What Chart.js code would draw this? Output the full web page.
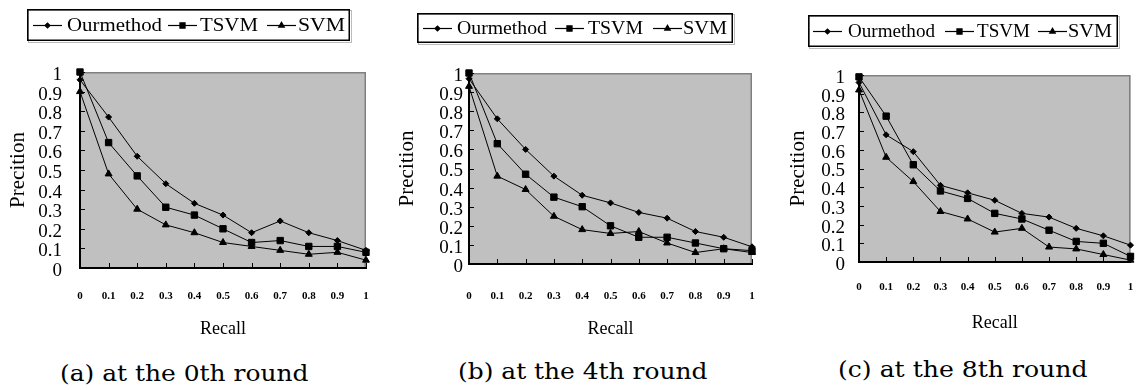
<!DOCTYPE html>
<html><head><meta charset="utf-8">
<script src="https://cdn.jsdelivr.net/npm/chart.js@4/dist/chart.umd.min.js"></script>
<style>
html,body{margin:0;padding:0;background:#fff;width:1136px;height:390px;overflow:hidden;position:relative;}
.wrap{position:absolute;top:0;height:350px;}
canvas{display:block;}
.cap{position:absolute;white-space:nowrap;font-family:"DejaVu Serif";font-size:23px;color:#000;transform-origin:0 0;line-height:1;}
</style></head><body>
<div class="wrap" id="w0" style="left:0;width:380px"><canvas id="c0"></canvas></div>
<div class="wrap" id="w1" style="left:380px;width:380px"><canvas id="c1"></canvas></div>
<div class="wrap" id="w2" style="left:760px;width:376px"><canvas id="c2"></canvas></div>
<div class="cap" id="cap0"></div>
<div class="cap" id="cap1"></div>
<div class="cap" id="cap2"></div>
<script>
// ---- data ----
const recall = ['0','0.1','0.2','0.3','0.4','0.5','0.6','0.7','0.8','0.9','1'];
const seriesNames = ['Ourmethod','TSVM','SVM'];
const xTitle = 'Recall';
const yTitle = 'Precition';
const captions = ['(a) at the 0th round','(b) at the 4th round','(c) at the 8th round'];

const ours0 = [0.96,0.77,0.57,0.43,0.33,0.27,0.18,0.24,0.18,0.14,0.09];
const tsvm0 = [1.00,0.64,0.47,0.31,0.27,0.20,0.13,0.14,0.11,0.11,0.08];
const svm0  = [0.90,0.48,0.30,0.22,0.18,0.13,0.11,0.09,0.07,0.08,0.04];

const ours4 = [0.97,0.76,0.60,0.46,0.36,0.32,0.27,0.24,0.17,0.14,0.09];
const tsvm4 = [1.00,0.63,0.47,0.35,0.30,0.20,0.14,0.14,0.11,0.08,0.07];
const svm4  = [0.93,0.46,0.39,0.25,0.18,0.16,0.17,0.11,0.06,0.08,0.06];

const ours8 = [0.96,0.68,0.59,0.41,0.37,0.33,0.26,0.24,0.18,0.14,0.09];
const tsvm8 = [0.99,0.78,0.52,0.38,0.34,0.26,0.23,0.17,0.11,0.10,0.03];
const svm8  = [0.92,0.56,0.43,0.27,0.23,0.16,0.18,0.08,0.07,0.04,0.01];

const panels = [[ours0,tsvm0,svm0],[ours4,tsvm4,svm4],[ours8,tsvm8,svm8]];

// ---- styling / layout ----
const pointStyles = ['rectRot','rect','triangle'];
const pointRadii = [3,4.5,4];
const layouts = [
  {w:380, area:{left:80,right:366,top:72,bottom:268}, yPad:18, yTitlePad:6, xPad:22, xTitlePad:10,
   legend:{box:[27,9,350,41], cy:25, lines:[33,168,267], texts:[67,200,298], textW:[95,58,47]},
   cap:{left:60, top:362, width:248}},
  {w:380, area:{left:89,right:372,top:73,bottom:264}, yPad:6, yTitlePad:15, xPad:26, xTitlePad:10,
   legend:{box:[37,13,353,43], cy:28, lines:[43,175,273], texts:[77,208,303], textW:[90,55,44]},
   cap:{left:458, top:360, width:249}},
  {w:376, area:{left:99,right:375,top:75,bottom:262}, yPad:14, yTitlePad:26, xPad:19, xTitlePad:16,
   legend:{box:[48,15,358,47], cy:31, lines:[53,185,278], texts:[88,217,308], textW:[87,53,44]},
   cap:{left:838, top:358, width:250}}
];
const H = 350;
const serif = "'Liberation Serif', 'Times New Roman', serif";

const decor = {
  id:'decor',
  beforeDraw(chart){
    const {ctx, chartArea:a} = chart;
    ctx.save();
    ctx.fillStyle = '#c0c0c0';
    ctx.fillRect(a.left, a.top, a.right-a.left, a.bottom-a.top);
    ctx.strokeStyle = '#808080';
    ctx.lineWidth = 1.5;
    ctx.beginPath();
    ctx.moveTo(a.left, a.top+0.75);
    ctx.lineTo(a.right-0.75, a.top+0.75);
    ctx.lineTo(a.right-0.75, a.bottom);
    ctx.stroke();
    ctx.restore();
  },
  afterDraw(chart, args, opts){
    const {ctx, chartArea:a} = chart;
    const L = opts.lay;
    ctx.save();
    // inner tick marks
    ctx.strokeStyle = '#000'; ctx.lineWidth = 1;
    const ys = chart.scales.y, xs = chart.scales.x;
    ctx.beginPath();
    ys.ticks.forEach((t,i)=>{ const y = Math.round(ys.getPixelForTick(i))+0.5; ctx.moveTo(a.left, y); ctx.lineTo(a.left+5, y); });
    xs.ticks.forEach((t,i)=>{ const x = Math.round(xs.getPixelForTick(i))+0.5; ctx.moveTo(x, a.bottom); ctx.lineTo(x, a.bottom-5); });
    ctx.stroke();
    // legend
    const lg = L.legend;
    const [bx1,by1,bx2,by2] = lg.box;
    ctx.fillStyle = '#fff';
    ctx.fillRect(bx1,by1,bx2-bx1,by2-by1);
    ctx.strokeStyle = '#bbb'; ctx.lineWidth = 1;
    ctx.strokeRect(bx1+1.5,by1+1.5,bx2-bx1,by2-by1);
    ctx.strokeStyle = '#000'; ctx.lineWidth = 1.5;
    ctx.strokeRect(bx1+0.75,by1+0.75,bx2-bx1-1.5,by2-by1-1.5);
    chart.data.datasets.forEach((ds,i)=>{
      const x0 = lg.lines[i], x1 = x0+29, cy = lg.cy;
      ctx.strokeStyle = '#000'; ctx.lineWidth = 1.2;
      ctx.beginPath(); ctx.moveTo(x0, cy+0.5); ctx.lineTo(x1, cy+0.5); ctx.stroke();
      ctx.fillStyle = '#000';
      Chart.helpers.drawPoint(ctx, {pointStyle: ds.pointStyle, radius: ds.pointRadius*0.8, borderWidth:1, rotation:0}, (x0+x1)/2, cy+0.5);
      ctx.fill();
      ctx.font = "19px " + serif;
      ctx.textBaseline = 'middle';
      ctx.fillStyle = '#000';
      const w = ctx.measureText(ds.label).width;
      ctx.save();
      ctx.translate(lg.texts[i], cy+1.5);
      ctx.scale(lg.textW[i]/w, 1);
      ctx.fillText(ds.label, 0, 0);
      ctx.restore();
    });
    ctx.restore();
  }
};

panels.forEach((series, p)=>{
  const L = layouts[p];
  const cv = document.getElementById('c'+p);
  cv.width = L.w; cv.height = H;
  cv.style.width = L.w+'px'; cv.style.height = H+'px';
  new Chart(cv, {
    type:'line',
    data:{
      labels: recall,
      datasets: series.map((vals,i)=>({
        label: seriesNames[i], data: vals,
        borderColor:'#000', borderWidth:1,
        pointStyle: pointStyles[i], pointRadius: pointRadii[i],
        pointBackgroundColor:'#000', pointBorderColor:'#000', pointBorderWidth:1,
        tension:0, fill:false, clip:false
      }))
    },
    options:{
      responsive:false, animation:false, events:[],
      layout:{padding:{left:0, top:L.area.top, right:L.w-L.area.right, bottom:0}},
      plugins:{legend:{display:false}, tooltip:{enabled:false}, decor:{lay:L}},
      scales:{
        x:{
          type:'category', offset:false,
          grid:{display:true, drawOnChartArea:false, drawTicks:false},
          border:{display:true, color:'#000', width:2},
          ticks:{autoSkip:false, maxRotation:0, minRotation:0, padding:L.xPad, color:'#000',
                 font:{family:serif, size:11, weight:'bold'}},
          title:{display:true, text:xTitle, color:'#000', font:{family:serif, size:18}, padding:{top:0,bottom:L.xTitlePad}},
          afterFit(s){ s.height = H - L.area.bottom; s.paddingLeft = 0; s.paddingRight = 0; }
        },
        y:{
          min:0, max:1,
          grid:{display:true, drawOnChartArea:false, drawTicks:false},
          border:{display:true, color:'#000', width:2},
          ticks:{stepSize:0.1, autoSkip:false, padding:L.yPad, labelOffset:3, color:'#000',
                 font:{family:serif, size:19},
                 callback:(v)=>String(Math.round(v*10)/10)},
          title:{display:true, text:yTitle, color:'#000', font:{family:serif, size:21}, padding:{top:L.yTitlePad,bottom:0}},
          afterFit(s){ s.width = L.area.left; s.paddingTop = 0; s.paddingBottom = 0; }
        }
      }
    },
    plugins:[decor]
  });
  const cap = document.getElementById('cap'+p);
  cap.textContent = captions[p];
  cap.style.left = L.cap.left+'px';
  cap.style.top = L.cap.top+'px';
  const w = cap.offsetWidth;
  cap.style.transform = 'scaleX(' + (L.cap.width / w) + ')';
});
</script>
</body></html>
